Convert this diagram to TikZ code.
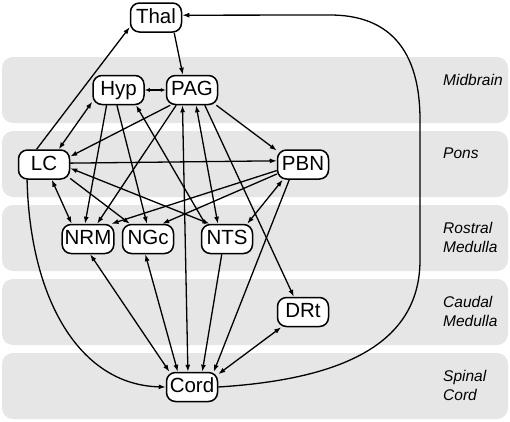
\documentclass[tikz,border=0pt]{standalone}
\usepackage{fontspec}
\setmainfont{Liberation Sans}
\usetikzlibrary{arrows.meta}
\definecolor{bandgray}{HTML}{E6E6E6}
\begin{document}
\begin{tikzpicture}[x=1pt,y=-1pt,
  region/.style={fill=bandgray, draw=none, rounded corners=11pt},
  area/.style={font=\fontsize{15.5}{19}\selectfont\itshape, anchor=north west, align=left, inner sep=0pt},
  nuc/.style={draw, line width=1.5pt, fill=white, rounded corners=9pt, minimum width=51pt, minimum height=29pt,
    inner xsep=2.5pt, inner ysep=0pt, text height=14.5pt, text depth=3pt, font=\fontsize{20.5}{23}\selectfont},
  link/.style={line width=1.3pt, -{Latex[length=7pt,width=5pt]}},
  both/.style={line width=1.3pt, {Latex[length=7pt,width=5pt]}-{Latex[length=7pt,width=5pt]}},
  shortboth/.style={line width=1.3pt, {Latex[length=5pt,width=4pt]}-{Latex[length=5pt,width=4pt]}},
]
\useasboundingbox (0,0) rectangle (510,421);
% bands
\fill[region] (2,57) rectangle (508,123);
\fill[region] (2,131) rectangle (508,197);
\fill[region] (2,205) rectangle (508,271);
\fill[region] (2,279) rectangle (508,345);
\fill[region] (2,353) rectangle (508,419);
\node[area] (lmid) at (443,74) {Midbrain};
\node[area] (lpons) at (443,148) {Pons};
\node[area] (lrm) at (443,222) {Rostral\\Medulla};
\node[area] (lcm) at (443,296) {Caudal\\Medulla};
\node[area] (lsc) at (443,370) {Spinal\\Cord};
% nodes
\node[nuc] (Thal) at (156,17.5) {Thal};
\node[nuc] (Hyp) at (118.5,90) {Hyp};
\node[nuc] (PAG) at (192,90) {PAG};
\node[nuc] (LC) at (44,164.5) {LC};
\node[nuc] (PBN) at (303,164.5) {PBN};
\node[nuc] (NRM) at (88,239) {NRM};
\node[nuc] (NGc) at (148,239) {NGc};
\node[nuc] (NTS) at (227,239) {NTS};
\node[nuc] (DRt) at (303,312) {DRt};
\node[nuc] (Cord) at (192,387) {Cord};
% edges
\draw[link] (LC.116) -- (Thal.200);
\draw[link] (Thal.-40) -- (PAG.121);
\draw[link] (Cord.east) .. controls (330,380) and (420,350) .. (420,260) -- (420,120)
   .. controls (420,40) and (380,15) .. (330,15) -- (Thal.5);
\draw[shortboth] (Hyp.east) -- (PAG.west);
\draw[both] (Hyp.204) -- (LC.46);
\draw[link] (PAG.215) -- (LC.17);
\draw[link] (LC.3) -- (PBN.172);
\draw[link] (PAG.-32) -- (PBN.152);
\draw[both] (LC.-63) -- (NRM.137);
\draw[link] (LC.-28) -- (NGc.140);
\draw[both] (LC.-8) -- (NTS.139);
\draw[link] (LC.-138) .. controls (30,300) and (80,385) .. (Cord.west);
\draw[link] (Hyp.232) -- (NRM.101);
\draw[link] (Hyp.-96) -- (NGc.94);
\draw[link] (NTS.145) -- (Hyp.-41);
\draw[link] (PAG.-136) -- (NRM.59);
\draw[both] (PAG.-122) -- (Cord.105);
\draw[both] (PAG.-75) -- (NTS.121);
\draw[link] (PAG.-50) -- (DRt.121);
\draw[link] (PBN.193) -- (NRM.33);
\draw[link] (PBN.200) -- (NGc.47);
\draw[both] (PBN.217) -- (NTS.37);
\draw[link] (PBN.228) -- (Cord.35);
\draw[both] (NRM.-82) -- (Cord.146);
\draw[both] (NGc.-100) -- (Cord.133);
\draw[link] (NTS.-109) -- (Cord.56);
\draw[both] (DRt.215) -- (Cord.26);
\end{tikzpicture}
\end{document}
